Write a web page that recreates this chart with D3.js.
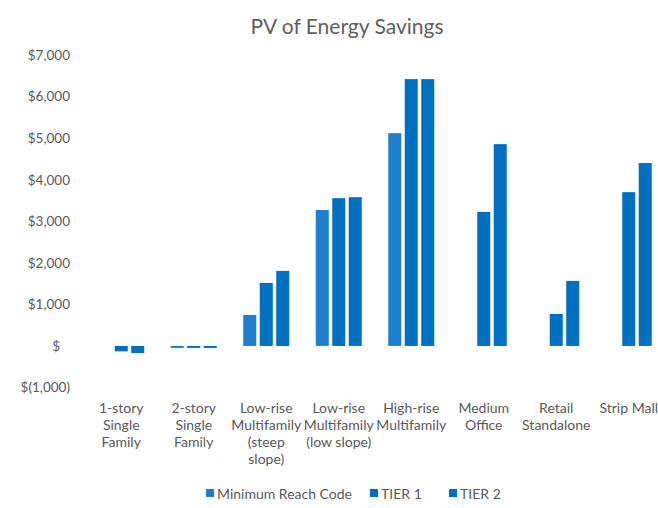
<!DOCTYPE html>
<html>
<head>
<meta charset="utf-8">
<script src="https://cdn.jsdelivr.net/npm/d3@7"></script>
<style>
  html, body { margin: 0; padding: 0; background: #fff; }
  svg { display: block; font-family: Lato, "Open Sans", "Liberation Sans", sans-serif; }
</style>
</head>
<body>
<svg id="chart" width="658" height="508"></svg>
<script>
const categories = [
  ["1-story", "Single", "Family"],
  ["2-story", "Single", "Family"],
  ["Low-rise", "Multifamily", "(steep", "slope)"],
  ["Low-rise", "Multifamily", "(low slope)"],
  ["High-rise", "Multifamily"],
  ["Medium", "Office"],
  ["Retail", "Standalone"],
  ["Strip Mall"]
];
const seriesNames = ["Minimum Reach Code", "TIER 1", "TIER 2"];
const minReach = [0, -20, 745, 3270, 5120, 0, 0, 0];
const tier1    = [-130, -40, 1515, 3555, 6420, 3225, 770, 3700];
const tier2    = [-170, -40, 1805, 3580, 6420, 4855, 1565, 4400];
const yTicks = [-1000, 0, 1000, 2000, 3000, 4000, 5000, 6000, 7000];
const colors = ["#1F7FCF", "#0070C0", "#0070C0"];

const series = [minReach, tier1, tier2];
const svg = d3.select("#chart");
const textColor = "#595959";

const catIdx = categories.map((d, i) => i);
const x0 = d3.scaleBand().domain(catIdx).range([85, 665]).paddingInner(0).paddingOuter(0);
const bw = x0.bandwidth();
const groupW = 46;
const x1 = d3.scaleBand().domain(seriesNames)
  .range([(bw - groupW) / 2, (bw + groupW) / 2]).paddingInner(0.21).paddingOuter(0);
const y = d3.scaleLinear().domain([-1000, 7000]).range([387.5, 55]);

// Title
svg.append("text").attr("x", 347).attr("y", 34).attr("text-anchor", "middle")
  .attr("font-size", 21).attr("fill", "#606060").text("PV of Energy Savings");

// Y axis
const fmt = v => v === 0 ? "$" : v < 0 ? "$(" + d3.format(",")(-v) + ")" : "$" + d3.format(",")(v);
const yAxis = svg.append("g").attr("transform", "translate(70,0)")
  .call(d3.axisLeft(y).tickValues(yTicks).tickFormat(fmt).tickSize(0).tickPadding(0));
yAxis.select(".domain").remove();
yAxis.selectAll("text").attr("font-size", 13.5).attr("fill", textColor)
  .attr("font-family", "Lato, 'Open Sans', sans-serif")
  .attr("dx", d => d === 0 ? -10 : 0);

// Bars
const groups = svg.append("g").selectAll("g").data(catIdx).join("g")
  .attr("transform", i => `translate(${x0(i)},0)`);
groups.selectAll("rect")
  .data(i => seriesNames.map((s, k) => ({ s, k, v: series[k][i] })))
  .join("rect")
  .attr("x", d => x1(d.s))
  .attr("width", x1.bandwidth())
  .attr("y", d => Math.min(y(d.v), y(0)))
  .attr("height", d => Math.max(Math.abs(y(d.v) - y(0)), d.v === 0 ? 0 : 2))
  .attr("fill", d => colors[d.k]);

// Category labels
const labels = svg.append("g").selectAll("text").data(catIdx).join("text")
  .attr("x", i => x0(i) + bw / 2).attr("y", 413)
  .attr("text-anchor", "middle").attr("font-size", 14).attr("fill", textColor);
labels.selectAll("tspan").data(i => categories[i]).join("tspan")
  .attr("x", function() { return d3.select(this.parentNode).attr("x"); })
  .attr("dy", (d, j) => j === 0 ? 0 : 17)
  .text(d => d);

// Legend
const legendItems = [
  { name: seriesNames[0], x: 206, c: colors[0] },
  { name: seriesNames[1], x: 370, c: colors[1] },
  { name: seriesNames[2], x: 449, c: colors[2] }
];
const lg = svg.append("g").selectAll("g").data(legendItems).join("g")
  .attr("transform", d => `translate(${d.x},499)`);
lg.append("rect").attr("x", 0).attr("y", -10).attr("width", 8).attr("height", 8).attr("fill", d => d.c);
lg.append("text").attr("x", 11).attr("y", 0).attr("font-size", 14).attr("fill", textColor).text(d => d.name);
</script>
</body>
</html>
